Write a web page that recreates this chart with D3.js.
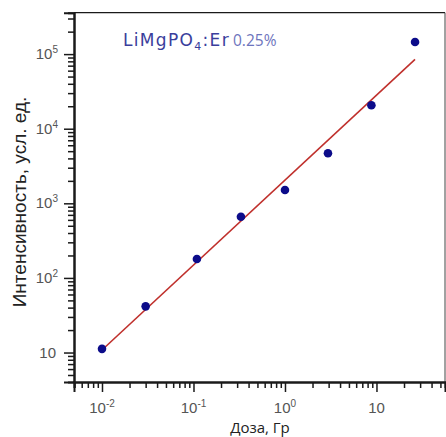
<!DOCTYPE html>
<html>
<head>
<meta charset="utf-8">
<script src="https://cdn.jsdelivr.net/npm/d3@7"></script>
<style>
  html, body { margin: 0; padding: 0; background: #ffffff; }
  svg { display: block; }
</style>
</head>
<body>
<svg id="chart" width="446" height="437"></svg>
<script>
// ---- data ----
const dose = [0.01, 0.03, 0.109, 0.33, 1.0, 2.95, 8.8, 26.4];           // Гр
const intensity = [11.2, 41.6, 179, 661, 1507, 4680, 20600, 145000];    // усл. ед.
const fitDose = [0.01, 26.4];
const fitIntensity = [10.8, 85000];
const xTickValues = [0.01, 0.1, 1, 10];
const xTickBase = ["10", "10", "10", "10"];
const xTickExp = ["-2", "-1", "0", ""];
const yTickValues = [10, 100, 1000, 10000, 100000];
const yTickBase = ["10", "10", "10", "10", "10"];
const yTickExp = ["", "2", "3", "4", "5"];
const titleMain = "LiMgPO";
const titleSub = "4";
const titleTail = ":Er";
const titleConc = "0.25%";
const xLabel = "Доза, Гр";
const yLabel = "Интенсивность, усл. ед.";

// ---- layout ----
const svg = d3.select("#chart");
const L = 74, R = 445, T = 12.7, B = 382;
const x = d3.scaleLog().domain([Math.pow(10, -2.306), Math.pow(10, 1.749)]).range([L, R]);
const y = d3.scaleLog().domain([Math.pow(10, 0.605), Math.pow(10, 5.555)]).range([B, T]);

function minorTicks(scale) {
  const [a, b] = scale.domain();
  const out = [];
  for (let k = Math.floor(Math.log10(a)); k <= Math.ceil(Math.log10(b)); k++) {
    for (let m = 2; m <= 9; m++) {
      const v = m * Math.pow(10, k);
      if (v >= a && v <= b) out.push(v);
    }
  }
  return out;
}

const axisColor = "#1a1a1a";
const tickTextColor = "#555555";

// frame top & right
svg.append("line").attr("x1", L).attr("x2", R).attr("y1", T).attr("y2", T)
  .attr("stroke", axisColor).attr("stroke-width", 1.2);
svg.append("line").attr("x1", R).attr("x2", R).attr("y1", T).attr("y2", B)
  .attr("stroke", "#444").attr("stroke-width", 1);

// axes
const gxMinor = svg.append("g").attr("transform", `translate(0,${B})`)
  .call(d3.axisBottom(x).tickValues(minorTicks(x)).tickSize(6).tickFormat(""));
const gx = svg.append("g").attr("transform", `translate(0,${B})`)
  .call(d3.axisBottom(x).tickValues(xTickValues).tickSize(10).tickFormat(""));
const gyMinor = svg.append("g").attr("transform", `translate(${L},0)`)
  .call(d3.axisLeft(y).tickValues(minorTicks(y)).tickSize(6).tickFormat(""));
const gy = svg.append("g").attr("transform", `translate(${L},0)`)
  .call(d3.axisLeft(y).tickValues(yTickValues).tickSize(10).tickFormat(""));

[gxMinor, gx, gyMinor, gy].forEach(g => {
  g.selectAll(".domain").attr("stroke", axisColor).attr("stroke-width", 2);
  g.selectAll(".tick line").attr("stroke", axisColor).attr("stroke-width", 1.5);
});

// x tick labels
xTickValues.forEach((v, i) => {
  const t = svg.append("text")
    .attr("x", x(v)).attr("y", 413)
    .attr("text-anchor", "middle")
    .attr("font-family", "Liberation Sans, Arial, sans-serif")
    .attr("font-size", 15)
    .attr("fill", tickTextColor);
  t.append("tspan").text(xTickBase[i]);
  if (xTickExp[i]) t.append("tspan").attr("dy", -6).attr("font-size", 10).text(xTickExp[i]);
});

// y tick labels
yTickValues.forEach((v, i) => {
  const t = svg.append("text")
    .attr("x", yTickExp[i] ? 58 : 56).attr("y", y(v) + 5)
    .attr("text-anchor", "end")
    .attr("font-family", "Liberation Sans, Arial, sans-serif")
    .attr("font-size", 15)
    .attr("fill", tickTextColor);
  t.append("tspan").text(yTickBase[i]);
  if (yTickExp[i]) t.append("tspan").attr("dy", -6).attr("font-size", 10).text(yTickExp[i]);
});

// fit line
svg.append("path")
  .datum(fitDose.map((d, i) => [d, fitIntensity[i]]))
  .attr("d", d3.line().x(d => x(d[0])).y(d => y(d[1])))
  .attr("fill", "none").attr("stroke", "#c0302c").attr("stroke-width", 1.6);

// points
svg.append("g").selectAll("circle")
  .data(dose.map((d, i) => [d, intensity[i]]))
  .join("circle")
  .attr("cx", d => x(d[0])).attr("cy", d => y(d[1]))
  .attr("r", 4.3).attr("fill", "#0c0c8a");

// title
const title = svg.append("text")
  .attr("x", 123).attr("y", 46)
  .attr("font-family", "DejaVu Sans, Verdana, sans-serif")
  .attr("font-size", 17)
  .attr("fill", "#3a3e9c");
title.append("tspan").text(titleMain);
title.append("tspan").attr("dy", 4).attr("font-size", 11).text(titleSub);
title.append("tspan").attr("dy", -4).text(titleTail);
{
  const w = title.node().getComputedTextLength();
  const target = 107;
  const n = titleMain.length + titleSub.length + titleTail.length;
  if (w < target) title.attr("letter-spacing", ((target - w) / n).toFixed(2));
}
svg.append("text")
  .attr("x", 233).attr("y", 46)
  .attr("font-family", "Open Sans, sans-serif")
  .attr("font-size", 15.5)
  .attr("fill", "#6d74bd")
  .text(titleConc);

// axis labels
svg.append("text")
  .attr("x", 260).attr("y", 432.5)
  .attr("text-anchor", "middle")
  .attr("font-family", "Open Sans, sans-serif")
  .attr("font-size", 15)
  .attr("fill", "#222")
  .text(xLabel);

svg.append("text")
  .attr("transform", "translate(26,202) rotate(-90)")
  .attr("text-anchor", "middle")
  .attr("font-family", "Liberation Sans, Arial, sans-serif")
  .attr("font-size", 19)
  .attr("fill", "#222")
  .text(yLabel);
</script>
</body>
</html>
